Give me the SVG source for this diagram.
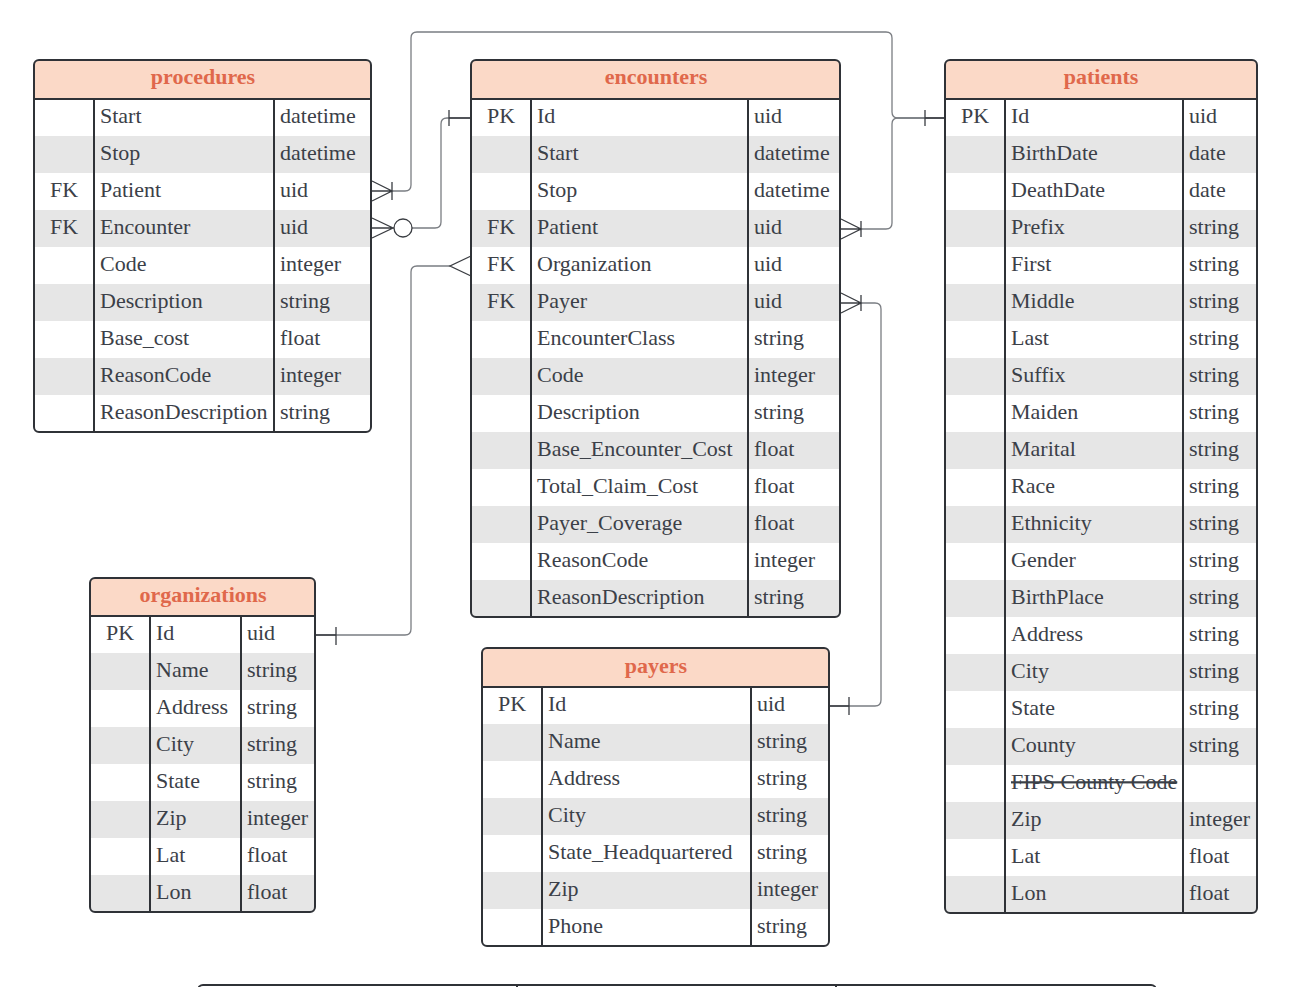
<svg xmlns="http://www.w3.org/2000/svg" width="1296" height="987" viewBox="0 0 1296 987">
<style>
.t{font-family:"Liberation Serif",serif;font-size:22px;fill:#3b4048}
.k{text-anchor:middle}
.h{font-family:"Liberation Serif",serif;font-size:22px;font-weight:bold;fill:#e0684b;text-anchor:middle}
.g{fill:#e6e6e6}
.hd{fill:#fbd9c7}
.ol{fill:none;stroke:#2f3237;stroke-width:2}
.cl{stroke:#2f3237;stroke-width:2;fill:none}
.cn{fill:none;stroke:#7a7d82;stroke-width:1.3}
.mk{fill:none;stroke:#3a3d42;stroke-width:1.3}
.st{text-decoration:line-through}
</style>
<defs>
<clipPath id="cpP"><rect x="34" y="60" width="337" height="372" rx="5"/></clipPath>
<clipPath id="cpE"><rect x="471" y="60" width="369" height="557" rx="5"/></clipPath>
<clipPath id="cpT"><rect x="945" y="60" width="312" height="853" rx="5"/></clipPath>
<clipPath id="cpO"><rect x="90" y="578" width="225" height="334" rx="5"/></clipPath>
<clipPath id="cpY"><rect x="482" y="648" width="347" height="298" rx="5"/></clipPath>
</defs>
<rect width="1296" height="987" fill="#ffffff"/>

<g id="connectors">
<path class="cn" d="M392,191 H405 q6,0 6,-6 V38 q0,-6 6,-6 H886 q6,0 6,6 V112 q0,6 6,6 H945"/>
<path class="cn" d="M861,229 H886 q6,0 6,-6 V124 q0,-6 6,-6 H945"/>
<path class="cn" d="M412,228 H435 q6,0 6,-6 V124 q0,-6 6,-6 H471"/>
<path class="cn" d="M316,635 H405 q6,0 6,-6 V272 q0,-6 6,-6 H450"/>
<path class="cn" d="M861,303 H875 q6,0 6,6 V700 q0,6 -6,6 H830"/>
<path class="mk" d="M372,181 L392,191 L372,201 M392,182 V200 M372,191 H392"/>
<path class="mk" d="M372,218 L393,228 L372,238 M372,228 H394"/>
<circle class="mk" cx="403" cy="228" r="9" fill="#ffffff"/>
<path class="mk" d="M449,110 V126 M449,118 H471"/>
<path class="mk" d="M471,256 L450,266 L471,276"/>
<path class="mk" d="M336,627 V645 M316,635 H336"/>
<path class="mk" d="M841,219 L861,229 L841,239 M861,221 V237 M841,229 H861"/>
<path class="mk" d="M841,293 L861,303 L841,313 M861,295 V311 M841,303 H861"/>
<path class="mk" d="M849,697 V715 M830,706 H849"/>
<path class="mk" d="M925,110 V126 M925,118 H945"/>
</g>

<g id="procedures">
<g clip-path="url(#cpP)">
<rect x="34" y="60" width="337" height="372" fill="#ffffff"/>
<rect class="hd" x="34" y="60" width="337" height="39"/>
<rect class="g" x="34" y="136" width="337" height="37"/>
<rect class="g" x="34" y="210" width="337" height="37"/>
<rect class="g" x="34" y="284" width="337" height="37"/>
<rect class="g" x="34" y="358" width="337" height="37"/>
</g>
<text class="h" x="203" y="84">procedures</text>
<g transform="translate(0,-1)">
<text class="t" x="100" y="124">Start</text><text class="t" x="280" y="124">datetime</text>
<text class="t" x="100" y="161">Stop</text><text class="t" x="280" y="161">datetime</text>
<text class="t k" x="64" y="198">FK</text><text class="t" x="100" y="198">Patient</text><text class="t" x="280" y="198">uid</text>
<text class="t k" x="64" y="235">FK</text><text class="t" x="100" y="235">Encounter</text><text class="t" x="280" y="235">uid</text>
<text class="t" x="100" y="272">Code</text><text class="t" x="280" y="272">integer</text>
<text class="t" x="100" y="309">Description</text><text class="t" x="280" y="309">string</text>
<text class="t" x="100" y="346">Base_cost</text><text class="t" x="280" y="346">float</text>
<text class="t" x="100" y="383">ReasonCode</text><text class="t" x="280" y="383">integer</text>
<text class="t" x="100" y="420">ReasonDescription</text><text class="t" x="280" y="420">string</text>
</g>
<path class="cl" d="M34,99 H371 M94,99 V432 M274,99 V432"/>
<rect class="ol" x="34" y="60" width="337" height="372" rx="5"/>
</g>

<g id="encounters">
<g clip-path="url(#cpE)">
<rect x="471" y="60" width="369" height="557" fill="#ffffff"/>
<rect class="hd" x="471" y="60" width="369" height="39"/>
<rect class="g" x="471" y="136" width="369" height="37"/>
<rect class="g" x="471" y="210" width="369" height="37"/>
<rect class="g" x="471" y="284" width="369" height="37"/>
<rect class="g" x="471" y="358" width="369" height="37"/>
<rect class="g" x="471" y="432" width="369" height="37"/>
<rect class="g" x="471" y="506" width="369" height="37"/>
<rect class="g" x="471" y="580" width="369" height="37"/>
</g>
<text class="h" x="656" y="84">encounters</text>
<g transform="translate(0,-1)">
<text class="t k" x="501" y="124">PK</text><text class="t" x="537" y="124">Id</text><text class="t" x="754" y="124">uid</text>
<text class="t" x="537" y="161">Start</text><text class="t" x="754" y="161">datetime</text>
<text class="t" x="537" y="198">Stop</text><text class="t" x="754" y="198">datetime</text>
<text class="t k" x="501" y="235">FK</text><text class="t" x="537" y="235">Patient</text><text class="t" x="754" y="235">uid</text>
<text class="t k" x="501" y="272">FK</text><text class="t" x="537" y="272">Organization</text><text class="t" x="754" y="272">uid</text>
<text class="t k" x="501" y="309">FK</text><text class="t" x="537" y="309">Payer</text><text class="t" x="754" y="309">uid</text>
<text class="t" x="537" y="346">EncounterClass</text><text class="t" x="754" y="346">string</text>
<text class="t" x="537" y="383">Code</text><text class="t" x="754" y="383">integer</text>
<text class="t" x="537" y="420">Description</text><text class="t" x="754" y="420">string</text>
<text class="t" x="537" y="457">Base_Encounter_Cost</text><text class="t" x="754" y="457">float</text>
<text class="t" x="537" y="494">Total_Claim_Cost</text><text class="t" x="754" y="494">float</text>
<text class="t" x="537" y="531">Payer_Coverage</text><text class="t" x="754" y="531">float</text>
<text class="t" x="537" y="568">ReasonCode</text><text class="t" x="754" y="568">integer</text>
<text class="t" x="537" y="605">ReasonDescription</text><text class="t" x="754" y="605">string</text>
</g>
<path class="cl" d="M471,99 H840 M531,99 V617 M748,99 V617"/>
<rect class="ol" x="471" y="60" width="369" height="557" rx="5"/>
</g>

<g id="patients">
<g clip-path="url(#cpT)">
<rect x="945" y="60" width="312" height="853" fill="#ffffff"/>
<rect class="hd" x="945" y="60" width="312" height="39"/>
<rect class="g" x="945" y="136" width="312" height="37"/>
<rect class="g" x="945" y="210" width="312" height="37"/>
<rect class="g" x="945" y="284" width="312" height="37"/>
<rect class="g" x="945" y="358" width="312" height="37"/>
<rect class="g" x="945" y="432" width="312" height="37"/>
<rect class="g" x="945" y="506" width="312" height="37"/>
<rect class="g" x="945" y="580" width="312" height="37"/>
<rect class="g" x="945" y="654" width="312" height="37"/>
<rect class="g" x="945" y="728" width="312" height="37"/>
<rect class="g" x="945" y="802" width="312" height="37"/>
<rect class="g" x="945" y="876" width="312" height="37"/>
</g>
<text class="h" x="1101" y="84">patients</text>
<g transform="translate(0,-1)">
<text class="t k" x="975" y="124">PK</text><text class="t" x="1011" y="124">Id</text><text class="t" x="1189" y="124">uid</text>
<text class="t" x="1011" y="161">BirthDate</text><text class="t" x="1189" y="161">date</text>
<text class="t" x="1011" y="198">DeathDate</text><text class="t" x="1189" y="198">date</text>
<text class="t" x="1011" y="235">Prefix</text><text class="t" x="1189" y="235">string</text>
<text class="t" x="1011" y="272">First</text><text class="t" x="1189" y="272">string</text>
<text class="t" x="1011" y="309">Middle</text><text class="t" x="1189" y="309">string</text>
<text class="t" x="1011" y="346">Last</text><text class="t" x="1189" y="346">string</text>
<text class="t" x="1011" y="383">Suffix</text><text class="t" x="1189" y="383">string</text>
<text class="t" x="1011" y="420">Maiden</text><text class="t" x="1189" y="420">string</text>
<text class="t" x="1011" y="457">Marital</text><text class="t" x="1189" y="457">string</text>
<text class="t" x="1011" y="494">Race</text><text class="t" x="1189" y="494">string</text>
<text class="t" x="1011" y="531">Ethnicity</text><text class="t" x="1189" y="531">string</text>
<text class="t" x="1011" y="568">Gender</text><text class="t" x="1189" y="568">string</text>
<text class="t" x="1011" y="605">BirthPlace</text><text class="t" x="1189" y="605">string</text>
<text class="t" x="1011" y="642">Address</text><text class="t" x="1189" y="642">string</text>
<text class="t" x="1011" y="679">City</text><text class="t" x="1189" y="679">string</text>
<text class="t" x="1011" y="716">State</text><text class="t" x="1189" y="716">string</text>
<text class="t" x="1011" y="753">County</text><text class="t" x="1189" y="753">string</text>
<text class="t st" x="1011" y="790">FIPS County Code</text>
<text class="t" x="1011" y="827">Zip</text><text class="t" x="1189" y="827">integer</text>
<text class="t" x="1011" y="864">Lat</text><text class="t" x="1189" y="864">float</text>
<text class="t" x="1011" y="901">Lon</text><text class="t" x="1189" y="901">float</text>
</g>
<path class="cl" d="M945,99 H1257 M1005,99 V913 M1183,99 V913"/>
<rect class="ol" x="945" y="60" width="312" height="853" rx="5"/>
</g>

<g id="organizations">
<g clip-path="url(#cpO)">
<rect x="90" y="578" width="225" height="334" fill="#ffffff"/>
<rect class="hd" x="90" y="578" width="225" height="38"/>
<rect class="g" x="90" y="653" width="225" height="37"/>
<rect class="g" x="90" y="727" width="225" height="37"/>
<rect class="g" x="90" y="801" width="225" height="37"/>
<rect class="g" x="90" y="875" width="225" height="37"/>
</g>
<text class="h" x="203" y="602">organizations</text>
<g transform="translate(0,-1)">
<text class="t k" x="120" y="641">PK</text><text class="t" x="156" y="641">Id</text><text class="t" x="247" y="641">uid</text>
<text class="t" x="156" y="678">Name</text><text class="t" x="247" y="678">string</text>
<text class="t" x="156" y="715">Address</text><text class="t" x="247" y="715">string</text>
<text class="t" x="156" y="752">City</text><text class="t" x="247" y="752">string</text>
<text class="t" x="156" y="789">State</text><text class="t" x="247" y="789">string</text>
<text class="t" x="156" y="826">Zip</text><text class="t" x="247" y="826">integer</text>
<text class="t" x="156" y="863">Lat</text><text class="t" x="247" y="863">float</text>
<text class="t" x="156" y="900">Lon</text><text class="t" x="247" y="900">float</text>
</g>
<path class="cl" d="M90,616 H315 M150,616 V912 M241,616 V912"/>
<rect class="ol" x="90" y="578" width="225" height="334" rx="5"/>
</g>

<g id="payers">
<g clip-path="url(#cpY)">
<rect x="482" y="648" width="347" height="298" fill="#ffffff"/>
<rect class="hd" x="482" y="648" width="347" height="39"/>
<rect class="g" x="482" y="724" width="347" height="37"/>
<rect class="g" x="482" y="798" width="347" height="37"/>
<rect class="g" x="482" y="872" width="347" height="37"/>
</g>
<text class="h" x="656" y="673">payers</text>
<g transform="translate(0,-1)">
<text class="t k" x="512" y="712">PK</text><text class="t" x="548" y="712">Id</text><text class="t" x="757" y="712">uid</text>
<text class="t" x="548" y="749">Name</text><text class="t" x="757" y="749">string</text>
<text class="t" x="548" y="786">Address</text><text class="t" x="757" y="786">string</text>
<text class="t" x="548" y="823">City</text><text class="t" x="757" y="823">string</text>
<text class="t" x="548" y="860">State_Headquartered</text><text class="t" x="757" y="860">string</text>
<text class="t" x="548" y="897">Zip</text><text class="t" x="757" y="897">integer</text>
<text class="t" x="548" y="934">Phone</text><text class="t" x="757" y="934">string</text>
</g>
<path class="cl" d="M482,687 H829 M542,687 V946 M751,687 V946"/>
<rect class="ol" x="482" y="648" width="347" height="298" rx="5"/>
</g>

<g id="partial-table">
<rect class="ol" x="198" y="985" width="958" height="40" rx="5"/>
<path class="cl" d="M517,985 V1000 M836,985 V1000"/>
</g>
</svg>
